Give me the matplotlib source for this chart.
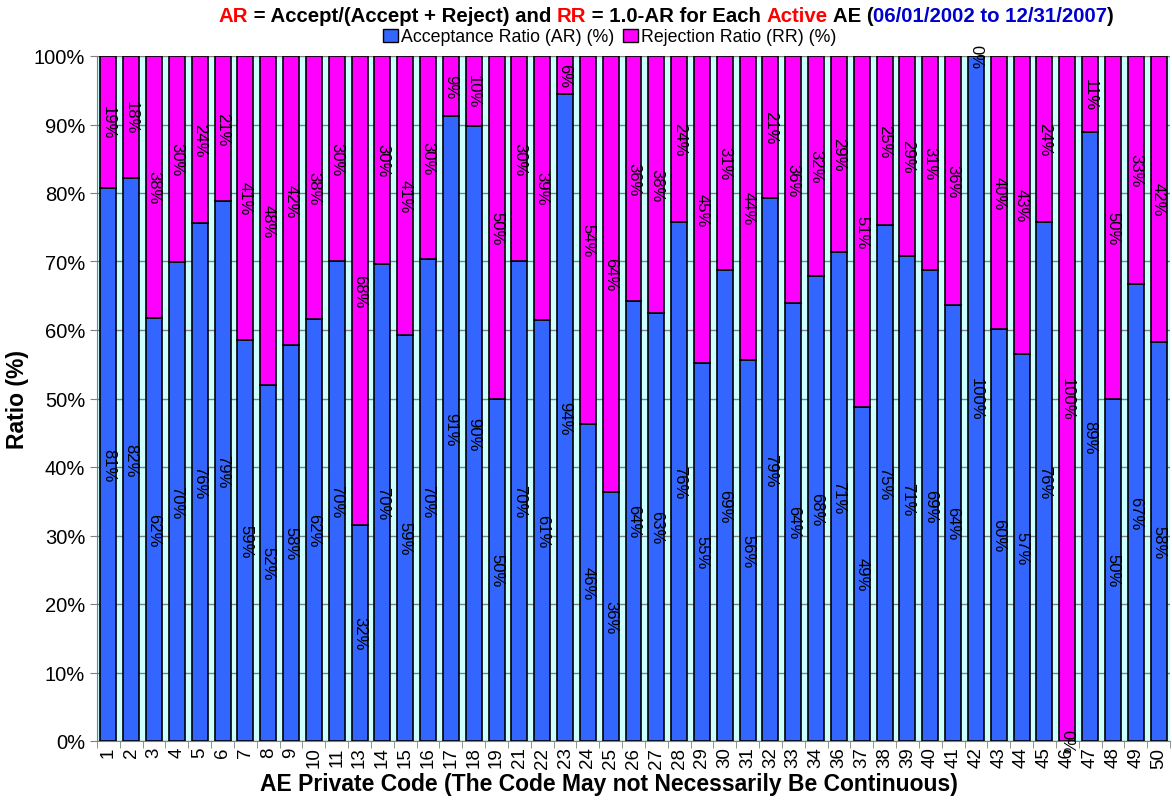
import numpy as np
import matplotlib
matplotlib.use("Agg")
import matplotlib.pyplot as plt
from matplotlib.patches import Patch

codes = [1, 2, 3, 4, 5, 6, 7, 8, 9, 10, 11, 13, 14, 15, 16, 17, 18, 19,
         21, 22, 23, 24, 25, 26, 27, 28, 29, 30, 31, 32, 33, 34,
         36, 37, 38, 39, 40, 41, 42, 43, 44, 45, 46, 47, 48, 49, 50]
# acceptance ratio (%)
ar = [80.8, 82.2, 61.8, 69.9, 75.6, 78.9, 58.6, 52.0, 57.8, 61.6, 70.1, 31.6, 69.6, 59.2,
      70.3, 91.2, 89.8, 50.0, 70.1, 61.4, 94.4, 46.3, 36.4, 64.3, 62.5, 75.7, 55.2, 68.8,
      55.6, 79.3, 63.9, 67.9, 71.4, 48.7, 75.4, 70.8, 68.8, 63.7, 100.0, 60.1, 56.5, 75.8,
      0.0, 88.9, 50.0, 66.7, 58.3]
rr = [100 - v for v in ar]
# data labels as printed on the chart
ar_lbl = [81, 82, 62, 70, 76, 79, 59, 52, 58, 62, 70, 32, 70, 59, 70, 91, 90, 50,
          70, 61, 94, 46, 36, 64, 63, 76, 55, 69, 56, 79, 64, 68,
          71, 49, 75, 71, 69, 64, 100, 60, 57, 76, 0, 89, 50, 67, 58]
rr_lbl = [19, 18, 38, 30, 24, 21, 41, 48, 42, 38, 30, 68, 30, 41, 30, 9, 10, 50,
          30, 39, 6, 54, 64, 36, 38, 24, 45, 31, 44, 21, 36, 32,
          29, 51, 25, 29, 31, 36, 0, 40, 43, 24, 100, 11, 50, 33, 42]

plt.rcParams['font.family'] = ['Liberation Sans', 'DejaVu Sans']

blue = '#3366FF'
magenta = '#FF00FF'

fig = plt.figure(figsize=(11.72, 8.04), dpi=100)
ax = fig.add_axes([97 / 1172, 62 / 804, 1073 / 1172, 685 / 804])
ax.set_facecolor('#CCFFFF')

x = np.arange(len(codes))
ax.bar(x, ar, width=0.7, color=blue, edgecolor='black', linewidth=1.2, zorder=3)
ax.bar(x, rr, width=0.7, bottom=ar, color=magenta, edgecolor='black', linewidth=1.2, zorder=3)

for i in range(len(codes)):
    ax.text(x[i], ar[i] / 2, f"{ar_lbl[i]}%", rotation=-90, ha='center', va='center',
            fontsize=12, zorder=4)
    ax.text(x[i], ar[i] + rr[i] / 2, f"{rr_lbl[i]}%", rotation=-90, ha='center', va='center',
            fontsize=12, zorder=4)

ax.set_xlim(-0.5, len(codes) - 0.5)
ax.set_ylim(0, 100)
ax.set_yticks(np.arange(0, 101, 10))
ax.set_yticklabels([f"{v}%" for v in range(0, 101, 10)], fontsize=14.5)
ax.set_xticks(x)
ax.set_xticklabels([str(c) for c in codes], rotation=90, fontsize=13.5)
ax.set_xticks(np.arange(-0.5, len(codes), 1), minor=True)
ax.tick_params(axis='x', which='major', length=0, pad=4)
ax.tick_params(axis='x', which='minor', length=5, color='gray')
ax.tick_params(axis='y', length=5, color='gray')
ax.yaxis.grid(True, color='gray', linewidth=1, zorder=1)
for s in ['top', 'right']:
    ax.spines[s].set_visible(False)
ax.spines['left'].set_color('gray')
ax.spines['bottom'].set_color('gray')

ax.set_xlabel('AE Private Code (The Code May not Necessarily Be Continuous)',
              fontsize=16.5, fontweight='bold')
ax.xaxis.set_label_coords((609 - 97) / 1073, -(790 - 747) / 685 - 0.0)
ax.xaxis.label.set_va('center')
ax.set_ylabel('Ratio (%)', fontsize=16.5, fontweight='bold')
ax.yaxis.set_label_coords(-(97 - 18) / 1073, 0.5)
ax.yaxis.label.set_va('center')

# multi-coloured title
parts = [("AR", 'red'), (" = Accept/(Accept + Reject) and ", 'black'), ("RR", 'red'),
         (" = 1.0-AR for Each ", 'black'), ("Active", 'red'), (" AE (", 'black'),
         ("06/01/2002 to 12/31/2007", '#0000CC'), (")", 'black')]
fig.canvas.draw()
renderer = fig.canvas.get_renderer()
texts = []
xpos = 0
for s, c in parts:
    t = fig.text(xpos, 1 - 17 / 804, s, color=c, fontsize=14.7, fontweight='bold',
                 ha='left', va='center')
    w = t.get_window_extent(renderer).width / fig.bbox.width
    texts.append((t, xpos))
    xpos += w
start = 666 / 1172 - xpos / 2
for t, p in texts:
    t.set_x(start + p)

handles = [Patch(facecolor=blue, edgecolor='black', label='Acceptance Ratio (AR) (%)'),
           Patch(facecolor=magenta, edgecolor='black', label='Rejection Ratio (RR) (%)')]
fig.legend(handles=handles, loc='center', bbox_to_anchor=(610 / 1172, 1 - 38 / 804),
           ncol=2, frameon=False, fontsize=12.8, handlelength=0.8, handleheight=0.8,
           handletextpad=0.2, columnspacing=0.5, borderpad=0)

fig.savefig('out.png', dpi=100)
